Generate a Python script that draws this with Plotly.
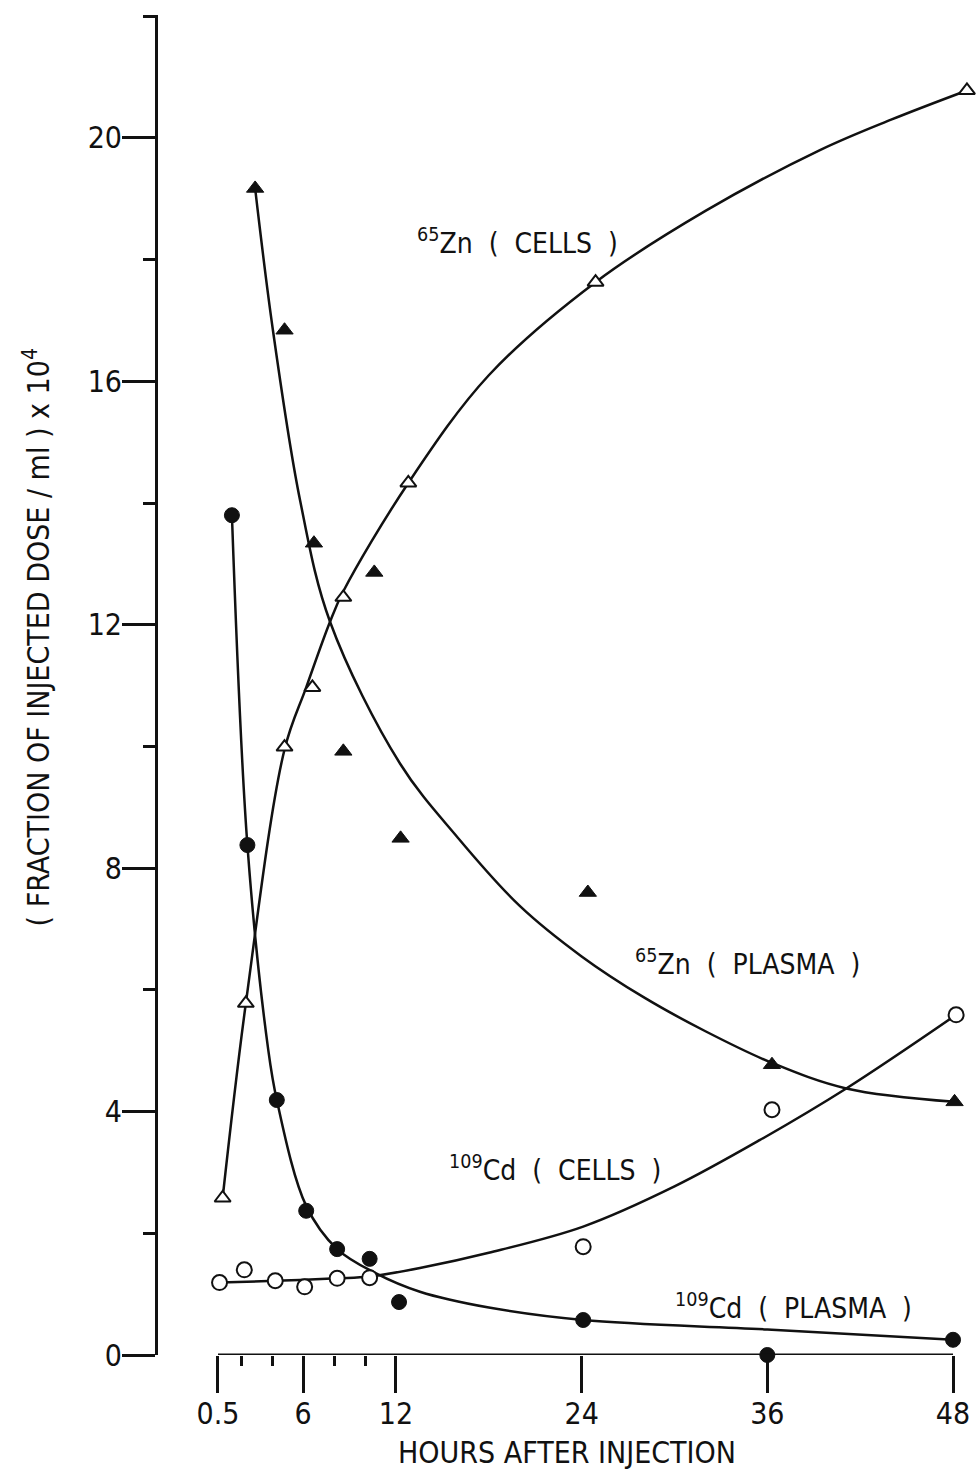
import plotly.graph_objects as go

# ---- data (hours, fraction of injected dose/ml x 1e4) ----
zn_cells_h = [0.8, 2.3, 4.8, 6.6, 8.6, 12.8, 24.9, 48.9]
zn_cells_v = [2.58, 5.78, 9.99, 10.97, 12.45, 14.33, 17.63, 20.78]

zn_plasma_h = [2.9, 4.8, 6.7, 8.6, 10.6, 12.3, 24.4, 36.3, 48.1]
zn_plasma_v = [19.17, 16.84, 13.34, 9.92, 12.86, 8.49, 7.6, 4.77, 4.16]

cd_plasma_h = [1.4, 2.4, 4.3, 6.2, 8.2, 10.3, 12.2, 24.1, 36.0, 48.0]
cd_plasma_v = [13.80, 8.38, 4.19, 2.37, 1.74, 1.58, 0.87, 0.575, 0.0, 0.25]

cd_cells_h = [0.6, 2.2, 4.2, 6.1, 8.2, 10.3, 24.1, 36.3, 48.2]
cd_cells_v = [1.19, 1.40, 1.22, 1.12, 1.26, 1.27, 1.78, 4.03, 5.59]

# hand-drawn fitted curves
zn_cells_fit_h = [0.8, 2.3, 4.8, 6.2, 7.74, 8.6, 12.8, 18, 24.9, 32, 39.4, 44, 48.9]
zn_cells_fit_v = [2.58, 5.78, 9.95, 10.97, 12.05, 12.55, 14.33, 16.1, 17.63, 18.8, 19.8, 20.3, 20.78]

zn_plasma_fit_h = [2.9, 4.05, 5.8, 7.74, 12.26, 16, 20, 24, 28, 32, 36.3, 41.1, 48.1]
zn_plasma_fit_v = [19.17, 16.84, 14.05, 12.05, 9.72, 8.5, 7.38, 6.55, 5.88, 5.32, 4.8, 4.38, 4.16]

cd_plasma_fit_h = [1.4, 2.4, 3.75, 4.3, 6.2, 8.2, 10.65, 13.55, 18, 24.1, 36, 48]
cd_plasma_fit_v = [13.80, 8.38, 5.01, 4.19, 2.45, 1.74, 1.35, 1.04, 0.78, 0.575, 0.42, 0.25]

cd_cells_fit_h = [0.6, 4.2, 8.2, 10.3, 13.55, 18, 24.1, 30, 35.5, 41.1, 48.2]
cd_cells_fit_v = [1.19, 1.22, 1.26, 1.29, 1.43, 1.68, 2.11, 2.77, 3.53, 4.38, 5.59]

x_tickvals = [0.5, 6, 12, 24, 36, 48]
x_ticktext = ["0.5", "6", "12", "24", "36", "48"]
x_minor = [2, 4, 8, 10]
y_tickvals = [0, 4, 8, 12, 16, 20]
y_minor = [2, 6, 10, 14, 18, 22]

S = "\u00a0 "  # wide gap as in the typeset labels
labels = [
    ("<sup>65</sup>Zn" + S + "(" + S + "CELLS" + S + ")", 13.23, 18.3),
    ("<sup>65</sup>Zn" + S + "(" + S + "PLASMA" + S + ")", 27.32, 6.45),
    ("<sup>109</sup>Cd" + S + "(" + S + "CELLS" + S + ")", 15.3, 3.07),
    ("<sup>109</sup>Cd" + S + "(" + S + "PLASMA" + S + ")", 29.9, 0.80),
]

FONT = "DejaVu Sans Condensed, Liberation Sans Narrow, DejaVu Sans, sans-serif"
BLACK = "#111111"

fig = go.Figure()

for hx, vy in [(zn_cells_fit_h, zn_cells_fit_v), (zn_plasma_fit_h, zn_plasma_fit_v),
               (cd_plasma_fit_h, cd_plasma_fit_v), (cd_cells_fit_h, cd_cells_fit_v)]:
    fig.add_trace(go.Scatter(x=hx, y=vy, mode="lines",
                             line=dict(color=BLACK, width=2.5, shape="spline", smoothing=1.0),
                             hoverinfo="skip", showlegend=False))

fig.add_trace(go.Scatter(x=zn_cells_h, y=zn_cells_v, mode="markers", showlegend=False,
                         cliponaxis=False,
                         marker=dict(symbol="triangle-up", size=14, color="white",
                                     line=dict(color=BLACK, width=2))))
fig.add_trace(go.Scatter(x=zn_plasma_h, y=zn_plasma_v, mode="markers", showlegend=False,
                         cliponaxis=False,
                         marker=dict(symbol="triangle-up", size=15, color=BLACK,
                                     line=dict(color=BLACK, width=1))))
fig.add_trace(go.Scatter(x=cd_plasma_h, y=cd_plasma_v, mode="markers", showlegend=False,
                         cliponaxis=False,
                         marker=dict(symbol="circle", size=15, color=BLACK,
                                     line=dict(color=BLACK, width=1))))
fig.add_trace(go.Scatter(x=cd_cells_h, y=cd_cells_v, mode="markers", showlegend=False,
                         cliponaxis=False,
                         marker=dict(symbol="circle", size=15, color="white",
                                     line=dict(color=BLACK, width=2))))

# x axis baseline from 0.5 to 48 h
fig.add_shape(type="line", xref="x", yref="y", x0=x_tickvals[0], x1=x_tickvals[-1], y0=0, y1=0,
              line=dict(color=BLACK, width=3), layer="above")

for txt, hx, vy in labels:
    fig.add_annotation(x=hx, y=vy, xref="x", yref="y", text=txt, showarrow=False,
                       xanchor="left", yanchor="middle",
                       font=dict(family=FONT, size=28, color=BLACK))

fig.add_annotation(xref="paper", yref="paper", x=0.5, y=0, yanchor="middle", yshift=-97,
                   text="HOURS AFTER INJECTION", showarrow=False,
                   font=dict(family=FONT, size=30, color=BLACK))
fig.add_annotation(xref="paper", yref="y", x=0, y=11.8, xanchor="right", yanchor="middle",
                   xshift=-99, textangle=-90,
                   text="( FRACTION OF INJECTED DOSE / ml ) x 10<sup>4</sup>", showarrow=False,
                   font=dict(family=FONT, size=30, color=BLACK))

fig.update_layout(
    width=979, height=1471,
    margin=dict(l=158, r=4, t=15, b=116),
    paper_bgcolor="white", plot_bgcolor="white",
    showlegend=False,
    xaxis=dict(range=[-3.377, 49.42], showgrid=False, zeroline=False, showline=False,
               tickmode="array", tickvals=x_tickvals, ticktext=x_ticktext,
               ticks="outside", ticklen=37, tickwidth=2.5, tickcolor=BLACK,
               ticklabelstandoff=-5,
               minor=dict(tickmode="array", tickvals=x_minor, ticks="outside",
                          ticklen=10, tickwidth=2.5, tickcolor=BLACK),
               tickfont=dict(family=FONT, size=30, color=BLACK)),
    yaxis=dict(range=[0, 22.02], showgrid=False, zeroline=False, showline=True,
               linecolor=BLACK, linewidth=3,
               tickmode="array", tickvals=y_tickvals,
               ticks="outside", ticklen=33, tickwidth=2.5, tickcolor=BLACK,
               ticklabelstandoff=-6,
               minor=dict(tickmode="array", tickvals=y_minor, ticks="outside",
                          ticklen=12, tickwidth=2.5, tickcolor=BLACK),
               tickfont=dict(family=FONT, size=30, color=BLACK)),
)

fig.write_html("out.html")
